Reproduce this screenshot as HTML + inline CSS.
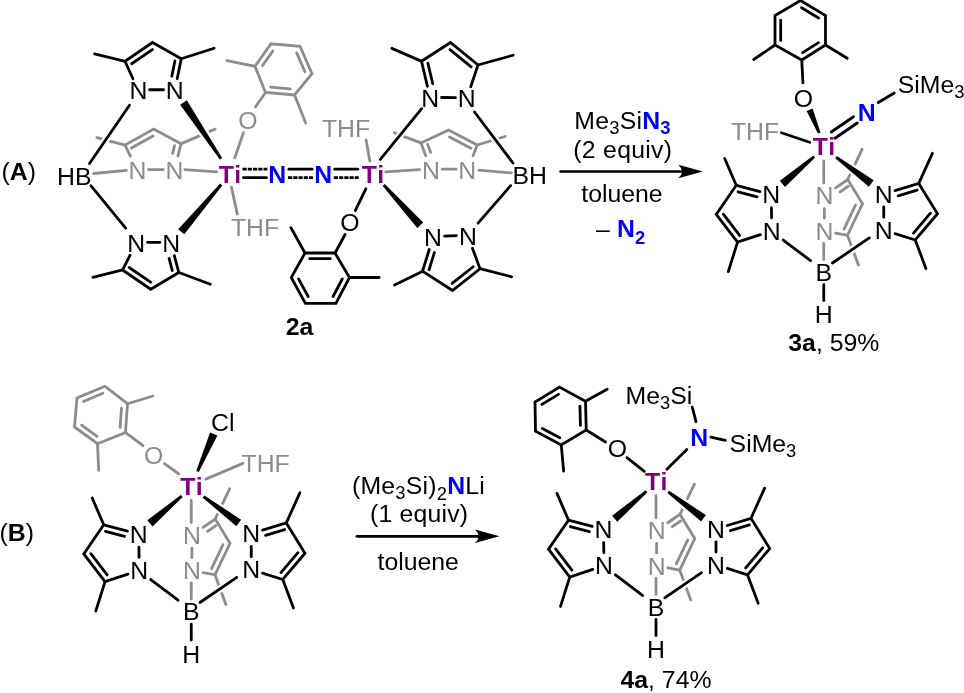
<!DOCTYPE html>
<html><head><meta charset="utf-8"><title>Scheme</title>
<style>
html,body{margin:0;padding:0;background:#fff;}
svg{display:block;font-family:"Liberation Sans",sans-serif;will-change:transform;-webkit-font-smoothing:antialiased;}
</style></head><body>
<svg width="964" height="693" viewBox="0 0 964 693">
<rect width="964" height="693" fill="#fff"/>
<line x1="181.83" y1="143.4" x2="215.17" y2="129.1" stroke="#8c8c8c" stroke-width="2.8" stroke-linecap="round"/>
<line x1="124.13" y1="144.77" x2="96.87" y2="137.73" stroke="#8c8c8c" stroke-width="2.8" stroke-linecap="round"/>
<polyline points="177.96,156.1 181,143.75 153.75,129 125,145 130.38,156.1" fill="none" stroke="#8c8c8c" stroke-width="2.8" stroke-linejoin="miter" stroke-linecap="round"/>
<line x1="152.99" y1="136.06" x2="131.4" y2="148.07" stroke="#8c8c8c" stroke-width="2.8" stroke-linecap="round"/>
<line x1="172.67" y1="153.36" x2="174.56" y2="145.67" stroke="#8c8c8c" stroke-width="2.8" stroke-linecap="round"/>
<line x1="163.2" y1="169.6" x2="148.6" y2="169.6" stroke="#8c8c8c" stroke-width="2.8" stroke-linecap="round"/>
<text x="174.4" y="179.28" fill="#8c8c8c" font-size="24.8" text-anchor="middle">N</text>
<text x="137.4" y="179.28" fill="#8c8c8c" font-size="24.8" text-anchor="middle">N</text>
<line x1="93.7" y1="173.51" x2="126.4" y2="170.29" stroke="#8c8c8c" stroke-width="2.8" stroke-linecap="round"/>
<line x1="184.8" y1="169.66" x2="216.6" y2="171.94" stroke="#8c8c8c" stroke-width="2.8" stroke-linecap="round"/>
<line x1="420.16" y1="142.68" x2="394.34" y2="132.82" stroke="#8c8c8c" stroke-width="2.8" stroke-linecap="round"/>
<line x1="478.11" y1="144.74" x2="505.14" y2="136.51" stroke="#8c8c8c" stroke-width="2.8" stroke-linecap="round"/>
<polyline points="425.67,155.7 421,143 448.5,130 477.25,145 473.03,155.7" fill="none" stroke="#8c8c8c" stroke-width="2.8" stroke-linejoin="miter" stroke-linecap="round"/>
<line x1="449.45" y1="137.04" x2="470.93" y2="148.25" stroke="#8c8c8c" stroke-width="2.8" stroke-linecap="round"/>
<line x1="430.63" y1="152.38" x2="427.62" y2="144.19" stroke="#8c8c8c" stroke-width="2.8" stroke-linecap="round"/>
<line x1="442.2" y1="169.2" x2="456.1" y2="169.2" stroke="#8c8c8c" stroke-width="2.8" stroke-linecap="round"/>
<text x="431" y="178.88" fill="#8c8c8c" font-size="24.8" text-anchor="middle">N</text>
<text x="467.3" y="178.88" fill="#8c8c8c" font-size="24.8" text-anchor="middle">N</text>
<line x1="385.65" y1="171.94" x2="419.6" y2="169.66" stroke="#8c8c8c" stroke-width="2.8" stroke-linecap="round"/>
<line x1="478.9" y1="170.08" x2="511.35" y2="172.92" stroke="#8c8c8c" stroke-width="2.8" stroke-linecap="round"/>
<polygon points="265.5,92.5 255,66.25 271,43.75 300,46.25 312,73.75 294.5,95" fill="none" stroke="#8c8c8c" stroke-width="2.8" stroke-linejoin="miter" stroke-linecap="round"/>
<line x1="262.37" y1="65.72" x2="272.92" y2="50.88" stroke="#8c8c8c" stroke-width="2.8" stroke-linecap="round"/>
<line x1="296.66" y1="52.84" x2="304.9" y2="71.72" stroke="#8c8c8c" stroke-width="2.8" stroke-linecap="round"/>
<line x1="290.31" y1="88.92" x2="270.67" y2="87.22" stroke="#8c8c8c" stroke-width="2.8" stroke-linecap="round"/>
<line x1="254.12" y1="66.07" x2="226.88" y2="60.68" stroke="#8c8c8c" stroke-width="2.8" stroke-linecap="round"/>
<line x1="294.83" y1="95.84" x2="305.67" y2="122.91" stroke="#8c8c8c" stroke-width="2.8" stroke-linecap="round"/>
<line x1="264.98" y1="93.24" x2="255.52" y2="106.76" stroke="#8c8c8c" stroke-width="2.8" stroke-linecap="round"/>
<text x="248" y="128.68" fill="#8c8c8c" font-size="24.8" text-anchor="middle">O</text>
<line x1="243.46" y1="132.6" x2="234.79" y2="157.9" stroke="#8c8c8c" stroke-width="2.8" stroke-linecap="round"/>
<line x1="231.44" y1="187.13" x2="237.31" y2="214.12" stroke="#8c8c8c" stroke-width="2.8" stroke-linecap="round"/>
<text x="255" y="236" fill="#8c8c8c" font-size="24.8" text-anchor="middle">THF</text>
<line x1="366.15" y1="139.89" x2="369.75" y2="161.11" stroke="#8c8c8c" stroke-width="2.8" stroke-linecap="round"/>
<text x="346" y="136.6" fill="#8c8c8c" font-size="24.8" text-anchor="middle">THF</text>
<line x1="182.11" y1="58.48" x2="214.14" y2="48.27" stroke="#000" stroke-width="2.8" stroke-linecap="round"/>
<line x1="124.12" y1="61.04" x2="94.63" y2="53.96" stroke="#000" stroke-width="2.8" stroke-linecap="round"/>
<polyline points="177.19,78.75 181.25,58.75 152.5,42.5 125,61.25 132.95,78.75" fill="none" stroke="#000" stroke-width="2.8" stroke-linejoin="miter" stroke-linecap="round"/>
<line x1="152.38" y1="49.6" x2="131.65" y2="63.73" stroke="#000" stroke-width="2.8" stroke-linecap="round"/>
<line x1="171.78" y1="76.22" x2="174.89" y2="60.93" stroke="#000" stroke-width="2.8" stroke-linecap="round"/>
<line x1="163.55" y1="89.75" x2="149.6" y2="89.75" stroke="#000" stroke-width="2.8" stroke-linecap="round"/>
<text x="174.75" y="99.43" fill="#000" font-size="24.8" text-anchor="middle">N</text>
<text x="138.4" y="99.43" fill="#000" font-size="24.8" text-anchor="middle">N</text>
<line x1="129.49" y1="105.24" x2="89.51" y2="163.56" stroke="#fff" stroke-width="7.3"/>
<line x1="129.49" y1="105.24" x2="89.51" y2="163.56" stroke="#000" stroke-width="2.8" stroke-linecap="round"/>
<polygon points="222.16,157.97 186.83,100.28 180.17,104.72 219.84,159.53" fill="#fff" stroke="#fff" stroke-width="4.5"/>
<polygon points="222.16,157.97 186.83,100.28 180.17,104.72 219.84,159.53" fill="#000"/>
<line x1="179.59" y1="272.81" x2="210.41" y2="284.19" stroke="#000" stroke-width="2.8" stroke-linecap="round"/>
<line x1="121.63" y1="270.21" x2="92.87" y2="277.29" stroke="#000" stroke-width="2.8" stroke-linecap="round"/>
<polyline points="174.36,255.6 178.75,272.5 150.75,289.25 122.5,270 130.09,255.2" fill="none" stroke="#000" stroke-width="2.8" stroke-linejoin="miter" stroke-linecap="round"/>
<line x1="150.63" y1="282.15" x2="129.15" y2="267.52" stroke="#000" stroke-width="2.8" stroke-linecap="round"/>
<line x1="169.1" y1="258.41" x2="172.28" y2="270.67" stroke="#000" stroke-width="2.8" stroke-linecap="round"/>
<line x1="159.91" y1="242.47" x2="147.59" y2="242.33" stroke="#000" stroke-width="2.8" stroke-linecap="round"/>
<text x="171.25" y="252.28" fill="#000" font-size="24.8" text-anchor="middle">N</text>
<text x="136.25" y="251.88" fill="#000" font-size="24.8" text-anchor="middle">N</text>
<line x1="90.87" y1="185.7" x2="125.68" y2="228.05" stroke="#000" stroke-width="2.8" stroke-linecap="round"/>
<polygon points="220.18,183.6 178.2,229.17 184.3,234.33 222.32,185.4" fill="#000"/>
<text x="74.3" y="184.7" fill="#000" font-size="24.8" text-anchor="middle">HB</text>
<text x="230.4" y="182.68" fill="#800080" font-size="24.8" text-anchor="middle" font-weight="bold" letter-spacing="0.9">Ti</text>
<text x="277.3" y="182.68" fill="#0000ff" font-size="24.8" text-anchor="middle" font-weight="bold">N</text>
<text x="323.3" y="182.68" fill="#0000ff" font-size="24.8" text-anchor="middle" font-weight="bold">N</text>
<text x="373.4" y="182.68" fill="#800080" font-size="24.8" text-anchor="middle" font-weight="bold" letter-spacing="0.9">Ti</text>
<line x1="242.5" y1="169.2" x2="267.4" y2="169.2" stroke="#000" stroke-width="2.8" stroke-linecap="butt" stroke-dasharray="4.2 1.05"/>
<line x1="243.4" y1="177.7" x2="266.5" y2="177.7" stroke="#000" stroke-width="2.8" stroke-linecap="round"/>
<line x1="288.9" y1="169.2" x2="312.1" y2="169.2" stroke="#000" stroke-width="2.8" stroke-linecap="round"/>
<line x1="288" y1="177.7" x2="313" y2="177.7" stroke="#000" stroke-width="2.8" stroke-linecap="butt" stroke-dasharray="4.2 1.05"/>
<line x1="334.7" y1="169.2" x2="357.8" y2="169.2" stroke="#000" stroke-width="2.8" stroke-linecap="round"/>
<line x1="333.8" y1="177.7" x2="358.7" y2="177.7" stroke="#000" stroke-width="2.8" stroke-linecap="butt" stroke-dasharray="4.2 1.05"/>
<line x1="365.86" y1="188.81" x2="355.39" y2="210.44" stroke="#000" stroke-width="2.8" stroke-linecap="round"/>
<text x="350" y="230.68" fill="#000" font-size="24.8" text-anchor="middle">O</text>
<polygon points="335,253 305,253 291.25,277.5 305.4,303.3 335.9,303.3 349.5,277.5" fill="none" stroke="#000" stroke-width="2.8" stroke-linejoin="miter" stroke-linecap="round"/>
<line x1="330.3" y1="258.7" x2="309.7" y2="258.7" stroke="#000" stroke-width="2.8" stroke-linecap="round"/>
<line x1="298.51" y1="278.88" x2="308.14" y2="296.44" stroke="#000" stroke-width="2.8" stroke-linecap="round"/>
<line x1="333.05" y1="296.48" x2="342.27" y2="279" stroke="#000" stroke-width="2.8" stroke-linecap="round"/>
<line x1="304.56" y1="252.21" x2="290.94" y2="227.79" stroke="#000" stroke-width="2.8" stroke-linecap="round"/>
<line x1="350.4" y1="277.5" x2="379.1" y2="277.5" stroke="#000" stroke-width="2.8" stroke-linecap="round"/>
<line x1="335.43" y1="252.21" x2="345.07" y2="234.54" stroke="#000" stroke-width="2.8" stroke-linecap="round"/>
<text x="299.5" y="334.5" fill="#000" font-size="24.8" text-anchor="middle" font-weight="bold">2a</text>
<line x1="420.67" y1="60.89" x2="391.83" y2="48.36" stroke="#000" stroke-width="2.8" stroke-linecap="round"/>
<line x1="478.87" y1="64.76" x2="513.13" y2="55.24" stroke="#000" stroke-width="2.8" stroke-linecap="round"/>
<polyline points="427.42,86.4 421.5,61.25 450.5,42.5 478,65 470.74,86.8" fill="none" stroke="#000" stroke-width="2.8" stroke-linejoin="miter" stroke-linecap="round"/>
<line x1="450" y1="49.59" x2="471.15" y2="66.89" stroke="#000" stroke-width="2.8" stroke-linecap="round"/>
<line x1="432.75" y1="83.71" x2="427.92" y2="63.23" stroke="#000" stroke-width="2.8" stroke-linecap="round"/>
<line x1="441.58" y1="97.52" x2="455.42" y2="97.68" stroke="#000" stroke-width="2.8" stroke-linecap="round"/>
<text x="430.25" y="107.08" fill="#000" font-size="24.8" text-anchor="middle">N</text>
<text x="466.75" y="107.48" fill="#000" font-size="24.8" text-anchor="middle">N</text>
<line x1="421.68" y1="108.7" x2="380.32" y2="159.3" stroke="#fff" stroke-width="7.3"/>
<line x1="421.68" y1="108.7" x2="380.32" y2="159.3" stroke="#000" stroke-width="2.8" stroke-linecap="round"/>
<line x1="474.54" y1="111.97" x2="512.96" y2="163.03" stroke="#fff" stroke-width="7.3"/>
<line x1="474.54" y1="111.97" x2="512.96" y2="163.03" stroke="#000" stroke-width="2.8" stroke-linecap="round"/>
<line x1="421.69" y1="271.65" x2="394.56" y2="285.1" stroke="#000" stroke-width="2.8" stroke-linecap="round"/>
<line x1="480.87" y1="268.97" x2="511.63" y2="276.78" stroke="#000" stroke-width="2.8" stroke-linecap="round"/>
<polyline points="429.27,249.5 422.5,271.25 452.5,290.5 480,268.75 472.43,248.25" fill="none" stroke="#000" stroke-width="2.8" stroke-linejoin="miter" stroke-linecap="round"/>
<line x1="452.12" y1="283.41" x2="473.19" y2="266.74" stroke="#000" stroke-width="2.8" stroke-linecap="round"/>
<line x1="434.39" y1="252.56" x2="429.05" y2="269.73" stroke="#000" stroke-width="2.8" stroke-linecap="round"/>
<line x1="444.61" y1="236.09" x2="456.39" y2="235.66" stroke="#000" stroke-width="2.8" stroke-linecap="round"/>
<text x="433" y="246.18" fill="#000" font-size="24.8" text-anchor="middle">N</text>
<text x="468" y="244.93" fill="#000" font-size="24.8" text-anchor="middle">N</text>
<line x1="478.09" y1="223.07" x2="510.66" y2="185.68" stroke="#000" stroke-width="2.8" stroke-linecap="round"/>
<polygon points="382.71,185.94 417.29,227.94 423.21,222.56 384.79,184.06" fill="#000"/>
<text x="529.8" y="183.6" fill="#000" font-size="24.8" text-anchor="middle">BH</text>
<line x1="848.14" y1="178.69" x2="862.11" y2="149.31" stroke="#8c8c8c" stroke-width="2.8" stroke-linecap="round"/>
<line x1="847.81" y1="236.14" x2="858.44" y2="265.06" stroke="#8c8c8c" stroke-width="2.8" stroke-linecap="round"/>
<polyline points="835.65,187.93 847.75,179.5 862.5,203.9 847.5,235.3 835.65,233.15" fill="none" stroke="#8c8c8c" stroke-width="2.8" stroke-linejoin="miter" stroke-linecap="round"/>
<line x1="855.5" y1="205.1" x2="844.03" y2="229.1" stroke="#8c8c8c" stroke-width="2.8" stroke-linecap="round"/>
<line x1="840.11" y1="191.89" x2="848.28" y2="186.2" stroke="#8c8c8c" stroke-width="2.8" stroke-linecap="round"/>
<line x1="824.35" y1="208.7" x2="824.35" y2="218.2" stroke="#8c8c8c" stroke-width="2.8" stroke-linecap="round"/>
<text x="824.35" y="204.48" fill="#8c8c8c" font-size="24.8" text-anchor="middle">N</text>
<text x="824.35" y="239.78" fill="#8c8c8c" font-size="24.8" text-anchor="middle">N</text>
<line x1="823.75" y1="160.9" x2="823.75" y2="183.1" stroke="#8c8c8c" stroke-width="2.8" stroke-linecap="round"/>
<line x1="823.75" y1="243.4" x2="823.75" y2="259.6" stroke="#8c8c8c" stroke-width="2.8" stroke-linecap="round"/>
<line x1="735.89" y1="184.47" x2="724.71" y2="158.53" stroke="#000" stroke-width="2.8" stroke-linecap="round"/>
<line x1="737.23" y1="243.06" x2="728.27" y2="271.64" stroke="#000" stroke-width="2.8" stroke-linecap="round"/>
<polyline points="759.95,191.67 736.25,185.3 716.25,214.4 737.5,242.2 760.45,234.63" fill="none" stroke="#000" stroke-width="2.8" stroke-linejoin="miter" stroke-linecap="round"/>
<line x1="723.35" y1="214.14" x2="739.62" y2="235.42" stroke="#000" stroke-width="2.8" stroke-linecap="round"/>
<line x1="757.09" y1="196.9" x2="738.03" y2="191.78" stroke="#000" stroke-width="2.8" stroke-linecap="round"/>
<line x1="771.43" y1="207.74" x2="771.57" y2="217.86" stroke="#000" stroke-width="2.8" stroke-linecap="round"/>
<text x="771.25" y="203.38" fill="#000" font-size="24.8" text-anchor="middle">N</text>
<text x="771.75" y="239.58" fill="#000" font-size="24.8" text-anchor="middle">N</text>
<line x1="919.12" y1="182.68" x2="932.38" y2="153.32" stroke="#000" stroke-width="2.8" stroke-linecap="round"/>
<line x1="915.57" y1="240.84" x2="925.93" y2="268.56" stroke="#000" stroke-width="2.8" stroke-linecap="round"/>
<polyline points="895.05,190.68 918.75,183.5 937.5,213.75 915.25,240 895.05,233.65" fill="none" stroke="#000" stroke-width="2.8" stroke-linejoin="miter" stroke-linecap="round"/>
<line x1="930.42" y1="213.13" x2="913.48" y2="233.12" stroke="#000" stroke-width="2.8" stroke-linecap="round"/>
<line x1="898.07" y1="195.82" x2="917.18" y2="190.04" stroke="#000" stroke-width="2.8" stroke-linecap="round"/>
<line x1="883.75" y1="207" x2="883.75" y2="217.2" stroke="#000" stroke-width="2.8" stroke-linecap="round"/>
<text x="883.75" y="202.78" fill="#000" font-size="24.8" text-anchor="middle">N</text>
<text x="883.75" y="238.78" fill="#000" font-size="24.8" text-anchor="middle">N</text>
<line x1="783.22" y1="240.04" x2="810.53" y2="260.71" stroke="#000" stroke-width="2.8" stroke-linecap="round"/>
<line x1="832.49" y1="262.99" x2="869.31" y2="237.91" stroke="#fff" stroke-width="7.3"/>
<line x1="832.49" y1="262.99" x2="869.31" y2="237.91" stroke="#000" stroke-width="2.8" stroke-linecap="round"/>
<polygon points="813.34,155.44 779.84,180.87 785.06,186.93 815.16,157.56" fill="#000"/>
<polygon points="835.21,158.22 868.85,186.7 873.65,180.3 836.89,155.98" fill="#fff" stroke="#fff" stroke-width="4.5"/>
<polygon points="835.21,158.22 868.85,186.7 873.65,180.3 836.89,155.98" fill="#000"/>
<text x="823.75" y="280.78" fill="#000" font-size="24.8" text-anchor="middle">B</text>
<line x1="823.75" y1="284.7" x2="823.75" y2="300.6" stroke="#000" stroke-width="2.8" stroke-linecap="round"/>
<text x="823.75" y="323.48" fill="#000" font-size="24.8" text-anchor="middle">H</text>
<text x="824.45" y="155.18" fill="#800080" font-size="24.8" text-anchor="middle" font-weight="bold" letter-spacing="0.9">Ti</text>
<polygon points="801.75,60 775,45 775,15.5 800.5,0.5 825.5,15.5 825.5,45" fill="none" stroke="#000" stroke-width="2.8" stroke-linejoin="miter" stroke-linecap="round"/>
<line x1="780.7" y1="40.3" x2="780.7" y2="20.2" stroke="#000" stroke-width="2.8" stroke-linecap="round"/>
<line x1="801.6" y1="7.81" x2="818.54" y2="17.97" stroke="#000" stroke-width="2.8" stroke-linecap="round"/>
<line x1="818.48" y1="42.69" x2="802.68" y2="52.67" stroke="#000" stroke-width="2.8" stroke-linecap="round"/>
<line x1="774.26" y1="45.51" x2="753.74" y2="59.49" stroke="#000" stroke-width="2.8" stroke-linecap="round"/>
<line x1="826.27" y1="45.47" x2="847.23" y2="58.28" stroke="#000" stroke-width="2.8" stroke-linecap="round"/>
<line x1="801.8" y1="60.9" x2="802.95" y2="82.85" stroke="#000" stroke-width="2.8" stroke-linecap="round"/>
<text x="803.5" y="106.68" fill="#000" font-size="24.8" text-anchor="middle">O</text>
<polygon points="820.54,132.46 812.55,108.57 806.65,111.03 817.96,133.54" fill="#000"/>
<text x="755" y="140.2" fill="#8c8c8c" font-size="24.8" text-anchor="middle">THF</text>
<line x1="781.35" y1="132.78" x2="809.65" y2="142.22" stroke="#000" stroke-width="2.8" stroke-linecap="round"/>
<line x1="831.24" y1="131.99" x2="853.51" y2="116.76" stroke="#000" stroke-width="2.8" stroke-linecap="round"/>
<line x1="834.99" y1="138.24" x2="857.26" y2="123.01" stroke="#000" stroke-width="2.8" stroke-linecap="round"/>
<text x="866.75" y="121.48" fill="#0000ff" font-size="24.8" text-anchor="middle" font-weight="bold">N</text>
<line x1="878.27" y1="102.54" x2="894.23" y2="92.96" stroke="#000" stroke-width="2.8" stroke-linecap="round"/>
<text x="897.8" y="93" fill="#000" font-size="24.8" text-anchor="start">SiMe<tspan font-size="18.4" dy="5">3</tspan></text>
<text x="833.8" y="351.2" fill="#000" font-size="24.8" text-anchor="middle"><tspan font-weight="bold">3a</tspan>, 59%</text>
<line x1="215.64" y1="518.19" x2="229.61" y2="488.81" stroke="#8c8c8c" stroke-width="2.8" stroke-linecap="round"/>
<line x1="215.31" y1="575.64" x2="225.94" y2="604.56" stroke="#8c8c8c" stroke-width="2.8" stroke-linecap="round"/>
<polyline points="203.15,527.43 215.25,519 230,543.4 215,574.8 203.15,572.65" fill="none" stroke="#8c8c8c" stroke-width="2.8" stroke-linejoin="miter" stroke-linecap="round"/>
<line x1="223" y1="544.6" x2="211.53" y2="568.6" stroke="#8c8c8c" stroke-width="2.8" stroke-linecap="round"/>
<line x1="207.61" y1="531.39" x2="215.78" y2="525.7" stroke="#8c8c8c" stroke-width="2.8" stroke-linecap="round"/>
<line x1="191.85" y1="548.2" x2="191.85" y2="557.7" stroke="#8c8c8c" stroke-width="2.8" stroke-linecap="round"/>
<text x="191.85" y="543.98" fill="#8c8c8c" font-size="24.8" text-anchor="middle">N</text>
<text x="191.85" y="579.28" fill="#8c8c8c" font-size="24.8" text-anchor="middle">N</text>
<line x1="191.25" y1="500.4" x2="191.25" y2="522.6" stroke="#8c8c8c" stroke-width="2.8" stroke-linecap="round"/>
<line x1="191.25" y1="582.9" x2="191.25" y2="599.1" stroke="#8c8c8c" stroke-width="2.8" stroke-linecap="round"/>
<line x1="103.39" y1="523.97" x2="92.21" y2="498.03" stroke="#000" stroke-width="2.8" stroke-linecap="round"/>
<line x1="104.73" y1="582.56" x2="95.77" y2="611.14" stroke="#000" stroke-width="2.8" stroke-linecap="round"/>
<polyline points="127.45,531.17 103.75,524.8 83.75,553.9 105,581.7 127.95,574.13" fill="none" stroke="#000" stroke-width="2.8" stroke-linejoin="miter" stroke-linecap="round"/>
<line x1="90.85" y1="553.64" x2="107.12" y2="574.92" stroke="#000" stroke-width="2.8" stroke-linecap="round"/>
<line x1="124.59" y1="536.4" x2="105.53" y2="531.28" stroke="#000" stroke-width="2.8" stroke-linecap="round"/>
<line x1="138.93" y1="547.24" x2="139.07" y2="557.36" stroke="#000" stroke-width="2.8" stroke-linecap="round"/>
<text x="138.75" y="542.88" fill="#000" font-size="24.8" text-anchor="middle">N</text>
<text x="139.25" y="579.08" fill="#000" font-size="24.8" text-anchor="middle">N</text>
<line x1="286.62" y1="522.18" x2="299.88" y2="492.82" stroke="#000" stroke-width="2.8" stroke-linecap="round"/>
<line x1="283.07" y1="580.34" x2="293.43" y2="608.06" stroke="#000" stroke-width="2.8" stroke-linecap="round"/>
<polyline points="262.55,530.18 286.25,523 305,553.25 282.75,579.5 262.55,573.15" fill="none" stroke="#000" stroke-width="2.8" stroke-linejoin="miter" stroke-linecap="round"/>
<line x1="297.92" y1="552.63" x2="280.98" y2="572.62" stroke="#000" stroke-width="2.8" stroke-linecap="round"/>
<line x1="265.57" y1="535.32" x2="284.68" y2="529.54" stroke="#000" stroke-width="2.8" stroke-linecap="round"/>
<line x1="251.25" y1="546.5" x2="251.25" y2="556.7" stroke="#000" stroke-width="2.8" stroke-linecap="round"/>
<text x="251.25" y="542.28" fill="#000" font-size="24.8" text-anchor="middle">N</text>
<text x="251.25" y="578.28" fill="#000" font-size="24.8" text-anchor="middle">N</text>
<line x1="150.72" y1="579.54" x2="178.03" y2="600.21" stroke="#000" stroke-width="2.8" stroke-linecap="round"/>
<line x1="199.99" y1="602.49" x2="236.81" y2="577.41" stroke="#fff" stroke-width="7.3"/>
<line x1="199.99" y1="602.49" x2="236.81" y2="577.41" stroke="#000" stroke-width="2.8" stroke-linecap="round"/>
<polygon points="180.84,494.94 147.34,520.37 152.56,526.43 182.66,497.06" fill="#000"/>
<polygon points="202.71,497.72 236.35,526.2 241.15,519.8 204.39,495.48" fill="#fff" stroke="#fff" stroke-width="4.5"/>
<polygon points="202.71,497.72 236.35,526.2 241.15,519.8 204.39,495.48" fill="#000"/>
<text x="191.25" y="620.28" fill="#000" font-size="24.8" text-anchor="middle">B</text>
<line x1="191.25" y1="624.2" x2="191.25" y2="640.1" stroke="#000" stroke-width="2.8" stroke-linecap="round"/>
<text x="191.25" y="662.98" fill="#000" font-size="24.8" text-anchor="middle">H</text>
<text x="191.95" y="494.68" fill="#800080" font-size="24.8" text-anchor="middle" font-weight="bold" letter-spacing="0.9">Ti</text>
<polygon points="125.5,432.5 127.5,403.75 105,386.25 77,398 74.5,427 97.5,443.75" fill="none" stroke="#8c8c8c" stroke-width="2.8" stroke-linejoin="miter" stroke-linecap="round"/>
<line x1="120.14" y1="427.42" x2="121.49" y2="408.04" stroke="#8c8c8c" stroke-width="2.8" stroke-linecap="round"/>
<line x1="102.87" y1="393.32" x2="83.54" y2="401.44" stroke="#8c8c8c" stroke-width="2.8" stroke-linecap="round"/>
<line x1="81.65" y1="425.16" x2="97.06" y2="436.38" stroke="#8c8c8c" stroke-width="2.8" stroke-linecap="round"/>
<line x1="128.36" y1="403.49" x2="152.89" y2="396.01" stroke="#8c8c8c" stroke-width="2.8" stroke-linecap="round"/>
<line x1="97.54" y1="444.65" x2="98.71" y2="470.35" stroke="#8c8c8c" stroke-width="2.8" stroke-linecap="round"/>
<line x1="126.22" y1="433.04" x2="143.03" y2="445.71" stroke="#8c8c8c" stroke-width="2.8" stroke-linecap="round"/>
<text x="153.75" y="464.18" fill="#8c8c8c" font-size="24.8" text-anchor="middle">O</text>
<line x1="164.48" y1="463.53" x2="178.77" y2="473.97" stroke="#8c8c8c" stroke-width="2.8" stroke-linecap="round"/>
<line x1="205.83" y1="479.15" x2="242.92" y2="463.35" stroke="#8c8c8c" stroke-width="2.8" stroke-linecap="round"/>
<text x="265.6" y="471.8" fill="#8c8c8c" font-size="24.8" text-anchor="middle">THF</text>
<polygon points="198.78,472.06 217.42,435.59 210.08,432.41 196.22,470.94" fill="#000"/>
<text x="222.8" y="431.2" fill="#000" font-size="24.8" text-anchor="middle">Cl</text>
<line x1="680.39" y1="513.49" x2="694.36" y2="484.11" stroke="#8c8c8c" stroke-width="2.8" stroke-linecap="round"/>
<line x1="680.06" y1="570.94" x2="690.69" y2="599.86" stroke="#8c8c8c" stroke-width="2.8" stroke-linecap="round"/>
<polyline points="667.9,522.73 680,514.3 694.75,538.7 679.75,570.1 667.9,567.95" fill="none" stroke="#8c8c8c" stroke-width="2.8" stroke-linejoin="miter" stroke-linecap="round"/>
<line x1="687.75" y1="539.9" x2="676.28" y2="563.9" stroke="#8c8c8c" stroke-width="2.8" stroke-linecap="round"/>
<line x1="672.36" y1="526.69" x2="680.53" y2="521" stroke="#8c8c8c" stroke-width="2.8" stroke-linecap="round"/>
<line x1="656.6" y1="543.5" x2="656.6" y2="553" stroke="#8c8c8c" stroke-width="2.8" stroke-linecap="round"/>
<text x="656.6" y="539.28" fill="#8c8c8c" font-size="24.8" text-anchor="middle">N</text>
<text x="656.6" y="574.58" fill="#8c8c8c" font-size="24.8" text-anchor="middle">N</text>
<line x1="656" y1="495.7" x2="656" y2="517.9" stroke="#8c8c8c" stroke-width="2.8" stroke-linecap="round"/>
<line x1="656" y1="578.2" x2="656" y2="594.4" stroke="#8c8c8c" stroke-width="2.8" stroke-linecap="round"/>
<line x1="568.14" y1="519.27" x2="556.96" y2="493.33" stroke="#000" stroke-width="2.8" stroke-linecap="round"/>
<line x1="569.48" y1="577.86" x2="560.52" y2="606.44" stroke="#000" stroke-width="2.8" stroke-linecap="round"/>
<polyline points="592.2,526.47 568.5,520.1 548.5,549.2 569.75,577 592.7,569.43" fill="none" stroke="#000" stroke-width="2.8" stroke-linejoin="miter" stroke-linecap="round"/>
<line x1="555.6" y1="548.94" x2="571.87" y2="570.22" stroke="#000" stroke-width="2.8" stroke-linecap="round"/>
<line x1="589.34" y1="531.7" x2="570.28" y2="526.58" stroke="#000" stroke-width="2.8" stroke-linecap="round"/>
<line x1="603.68" y1="542.54" x2="603.82" y2="552.66" stroke="#000" stroke-width="2.8" stroke-linecap="round"/>
<text x="603.5" y="538.18" fill="#000" font-size="24.8" text-anchor="middle">N</text>
<text x="604" y="574.38" fill="#000" font-size="24.8" text-anchor="middle">N</text>
<line x1="751.37" y1="517.48" x2="764.63" y2="488.12" stroke="#000" stroke-width="2.8" stroke-linecap="round"/>
<line x1="747.82" y1="575.64" x2="758.18" y2="603.36" stroke="#000" stroke-width="2.8" stroke-linecap="round"/>
<polyline points="727.3,525.48 751,518.3 769.75,548.55 747.5,574.8 727.3,568.45" fill="none" stroke="#000" stroke-width="2.8" stroke-linejoin="miter" stroke-linecap="round"/>
<line x1="762.67" y1="547.93" x2="745.73" y2="567.92" stroke="#000" stroke-width="2.8" stroke-linecap="round"/>
<line x1="730.32" y1="530.62" x2="749.43" y2="524.84" stroke="#000" stroke-width="2.8" stroke-linecap="round"/>
<line x1="716" y1="541.8" x2="716" y2="552" stroke="#000" stroke-width="2.8" stroke-linecap="round"/>
<text x="716" y="537.58" fill="#000" font-size="24.8" text-anchor="middle">N</text>
<text x="716" y="573.58" fill="#000" font-size="24.8" text-anchor="middle">N</text>
<line x1="615.47" y1="574.84" x2="642.78" y2="595.51" stroke="#000" stroke-width="2.8" stroke-linecap="round"/>
<line x1="664.74" y1="597.79" x2="701.56" y2="572.71" stroke="#fff" stroke-width="7.3"/>
<line x1="664.74" y1="597.79" x2="701.56" y2="572.71" stroke="#000" stroke-width="2.8" stroke-linecap="round"/>
<polygon points="645.59,490.24 612.09,515.67 617.31,521.73 647.41,492.36" fill="#000"/>
<polygon points="667.46,493.02 701.1,521.5 705.9,515.1 669.14,490.78" fill="#fff" stroke="#fff" stroke-width="4.5"/>
<polygon points="667.46,493.02 701.1,521.5 705.9,515.1 669.14,490.78" fill="#000"/>
<text x="656" y="615.58" fill="#000" font-size="24.8" text-anchor="middle">B</text>
<line x1="656" y1="619.5" x2="656" y2="635.4" stroke="#000" stroke-width="2.8" stroke-linecap="round"/>
<text x="656" y="658.28" fill="#000" font-size="24.8" text-anchor="middle">H</text>
<text x="656.7" y="489.98" fill="#800080" font-size="24.8" text-anchor="middle" font-weight="bold" letter-spacing="0.9">Ti</text>
<polygon points="586.25,430 585.5,401.25 559.5,387 535,402 535.5,431.25 561.25,445" fill="none" stroke="#000" stroke-width="2.8" stroke-linejoin="miter" stroke-linecap="round"/>
<line x1="580.43" y1="425.45" x2="579.92" y2="406.1" stroke="#000" stroke-width="2.8" stroke-linecap="round"/>
<line x1="558.47" y1="394.32" x2="541.98" y2="404.41" stroke="#000" stroke-width="2.8" stroke-linecap="round"/>
<line x1="542.33" y1="428.44" x2="559.79" y2="437.76" stroke="#000" stroke-width="2.8" stroke-linecap="round"/>
<line x1="586.29" y1="400.81" x2="607.21" y2="389.19" stroke="#000" stroke-width="2.8" stroke-linecap="round"/>
<line x1="561.33" y1="445.9" x2="563.67" y2="471.1" stroke="#000" stroke-width="2.8" stroke-linecap="round"/>
<line x1="587.01" y1="430.48" x2="605.49" y2="442.02" stroke="#000" stroke-width="2.8" stroke-linecap="round"/>
<text x="617.5" y="457.43" fill="#000" font-size="24.8" text-anchor="middle">O</text>
<line x1="626.95" y1="457.56" x2="644.3" y2="471.44" stroke="#000" stroke-width="2.8" stroke-linecap="round"/>
<line x1="666.89" y1="469.36" x2="686.86" y2="449.39" stroke="#000" stroke-width="2.8" stroke-linecap="round"/>
<text x="699.3" y="445.68" fill="#0000ff" font-size="24.8" text-anchor="middle" font-weight="bold">N</text>
<line x1="696.02" y1="421.63" x2="692.23" y2="407.12" stroke="#000" stroke-width="2.8" stroke-linecap="round"/>
<line x1="710.88" y1="437.19" x2="725.37" y2="440.31" stroke="#000" stroke-width="2.8" stroke-linecap="round"/>
<text x="692.3" y="404.2" fill="#000" font-size="24.8" text-anchor="end">Me<tspan font-size="18.4" dy="5">3</tspan><tspan dy="-5">Si</tspan></text>
<text x="729.6" y="452.4" fill="#000" font-size="24.8" text-anchor="start">SiMe<tspan font-size="18.4" dy="5">3</tspan></text>
<text x="666" y="687.9" fill="#000" font-size="24.8" text-anchor="middle"><tspan font-weight="bold">4a</tspan>, 74%</text>
<text x="18.8" y="180.1" fill="#000" font-size="24.8" text-anchor="middle">(<tspan font-weight="bold">A</tspan>)</text>
<text x="16.8" y="541" fill="#000" font-size="24.8" text-anchor="middle">(<tspan font-weight="bold">B</tspan>)</text>
<line x1="560.65" y1="171.5" x2="689.9" y2="171.5" stroke="#000" stroke-width="2.7" stroke-linecap="round"/>
<path d="M702.8 171.5 L678.3 164.7 Q685.8 171.5 678.3 178.3 Z" fill="#000"/>
<text x="622.5" y="128.5" fill="#000" font-size="24.8" text-anchor="middle" letter-spacing="0.22">Me<tspan font-size="18.4" dy="5">3</tspan><tspan dy="-5">Si</tspan><tspan font-weight="bold" fill="#0000ff">N<tspan font-size="18.4" dy="5">3</tspan></tspan></text>
<text x="622.8" y="157.6" fill="#000" font-size="24.8" text-anchor="middle" letter-spacing="0.3">(2 equiv)</text>
<text x="622" y="202.2" fill="#000" font-size="24.8" text-anchor="middle">toluene</text>
<text x="603" y="237.4" fill="#000" font-size="24.8" text-anchor="middle">–</text>
<text x="617" y="237.4" fill="#000" font-size="24.8" text-anchor="start"><tspan font-weight="bold" fill="#0000ff">N<tspan font-size="18.4" dy="6.5">2</tspan></tspan></text>
<line x1="356.9" y1="536.3" x2="486.5" y2="536.3" stroke="#000" stroke-width="2.7" stroke-linecap="round"/>
<path d="M499.4 536.3 L474.9 529.5 Q482.4 536.3 474.9 543.1 Z" fill="#000"/>
<text x="418.5" y="493.7" fill="#000" font-size="24.8" text-anchor="middle" letter-spacing="0.22">(Me<tspan font-size="18.4" dy="5">3</tspan><tspan dy="-5">Si)</tspan><tspan font-size="18.4" dy="6.2">2</tspan><tspan dy="-6.2" font-weight="bold" fill="#0000ff">N</tspan>Li</text>
<text x="419.1" y="521.7" fill="#000" font-size="24.8" text-anchor="middle" letter-spacing="0.2">(1 equiv)</text>
<text x="418.2" y="570.2" fill="#000" font-size="24.8" text-anchor="middle">toluene</text>
</svg>
</body></html>
